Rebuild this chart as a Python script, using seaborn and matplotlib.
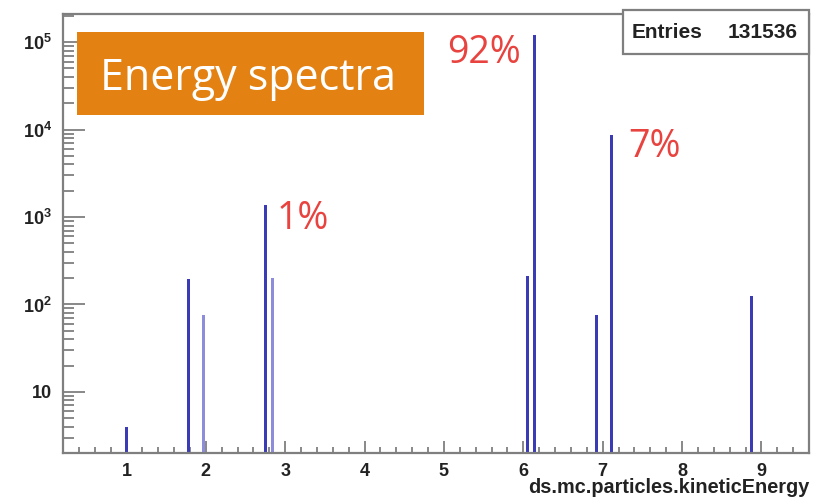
import numpy as np
import pandas as pd
import matplotlib
matplotlib.use("Agg")
import matplotlib.pyplot as plt
import matplotlib.ticker as mticker
from matplotlib.patches import Rectangle
import seaborn as sns

# Kinetic-energy lines and their entry counts
energy = [1.00, 1.78, 1.97, 2.75, 2.84, 6.05, 6.14, 6.92, 7.11, 8.87]
counts = [4, 194, 75, 1370, 203, 210, 120000, 75, 8700, 124]
shade = ["dark", "dark", "light", "dark", "light", "dark", "dark", "dark", "dark", "dark"]

entries_label = "131536"
y_tick_values = [10, 1e2, 1e3, 1e4, 1e5]
y_tick_labels = ["10", "$10^{2}$", "$10^{3}$", "$10^{4}$", "$10^{5}$"]
x_tick_values = [1, 2, 3, 4, 5, 6, 7, 8, 9]

# Percent annotations attached to their peaks
peak_labels = [
    (2.75, 1370, "1%"),
    (6.14, 120000, "92%"),
    (7.11, 8700, "7%"),
]

sns.set_style("ticks")
plt.rcParams["font.family"] = ["Liberation Sans", "DejaVu Sans"]
plt.rcParams["mathtext.fontset"] = "custom"
plt.rcParams["mathtext.rm"] = "Liberation Sans:bold"
plt.rcParams["mathtext.bf"] = "Liberation Sans:bold"
plt.rcParams["mathtext.default"] = "bf"

df = pd.DataFrame({"energy": energy, "count": counts, "shade": shade})

W, H = 825, 499
fig = plt.figure(figsize=(W / 100, H / 100), dpi=100)
ax = fig.add_axes([63 / W, (H - 453) / H, (809 - 63) / W, (453 - 14) / H])

# Narrow bins around each line
half = 0.019
edges = sorted([e - half for e in energy] + [e + half for e in energy])

sns.histplot(
    data=df, x="energy", weights="count", hue="shade", bins=edges,
    palette={"dark": "#3b3bb6", "light": "#8d8ddc"},
    element="bars", fill=True, alpha=1.0, linewidth=0, legend=False,
    multiple="layer", ax=ax,
)

ax.set_yscale("log")
ax.set_xlim(0.2, 9.6)
ax.set_ylim(2.0, 2.1e5)

spine_col = "#7f7f7f"
for s in ax.spines.values():
    s.set_color(spine_col)
    s.set_linewidth(1.6)

ax.yaxis.set_major_locator(mticker.FixedLocator(y_tick_values))
ax.yaxis.set_major_formatter(mticker.FixedFormatter(y_tick_labels))
ax.yaxis.set_minor_locator(mticker.LogLocator(base=10, subs=np.arange(2, 10)))
ax.yaxis.set_minor_formatter(mticker.NullFormatter())
ax.xaxis.set_major_locator(mticker.FixedLocator(x_tick_values))
ax.xaxis.set_minor_locator(mticker.MultipleLocator(0.2))

ax.tick_params(which="both", direction="in", color=spine_col, width=1.3,
               bottom=True, left=True, top=False, right=False)
ax.tick_params(axis="y", which="major", length=16, pad=8)
ax.tick_params(axis="y", which="minor", length=8)
ax.tick_params(axis="x", which="major", length=9, pad=7)
ax.tick_params(axis="x", which="minor", length=4.5)
for lab in ax.get_xticklabels() + ax.get_yticklabels():
    lab.set_fontweight("bold")
    lab.set_fontsize(13)
    lab.set_color("#222222")

ax.set_ylabel("")
ax.set_xlabel("ds.mc.particles.kineticEnergy", fontsize=14.3, fontweight="bold",
              color="#222222")
ax.xaxis.set_label_coords(1.0, -0.057)
ax.xaxis.label.set_horizontalalignment("right")

# Statistics box
fig.patches.append(Rectangle((623 / W, (H - 54) / H), (809 - 623) / W, 44 / H,
                             transform=fig.transFigure, facecolor="white",
                             edgecolor=spine_col, linewidth=1.6, zorder=5))
fig.text(632 / W, (H - 33) / H, "Entries", fontsize=15, fontweight="bold",
         va="center", ha="left", color="#222222", zorder=6)
fig.text(798 / W, (H - 33) / H, entries_label, fontsize=15, fontweight="bold",
         va="center", ha="right", color="#222222", zorder=6)

# Title banner
fig.patches.append(Rectangle((77 / W, (H - 115) / H), (424 - 77) / W, 83 / H,
                             transform=fig.transFigure, facecolor="#e38112",
                             edgecolor="none", zorder=5))
fig.text(100 / W, (H - 90) / H, "Energy spectra", fontsize=31, color="white",
         family="Open Sans", va="baseline", ha="left", zorder=6)

offsets = {"1%": (8, -17, "left"), "92%": (-10, -20, "right"), "7%": (12, -16, "left")}
for x, y, txt in peak_labels:
    dx, dy, ha = offsets[txt]
    ax.annotate(txt, xy=(x, y), xytext=(dx, dy), textcoords="offset points",
                fontsize=27, color="#e8433f", family="Open Sans",
                ha=ha, va="baseline")

fig.savefig("out.png", dpi=100, facecolor="white")
